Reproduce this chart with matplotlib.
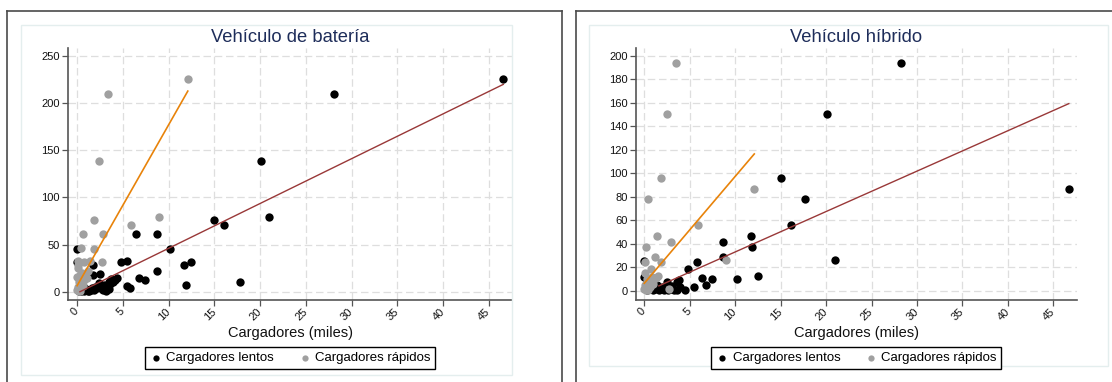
import matplotlib
matplotlib.use("Agg")
import matplotlib.pyplot as plt
from matplotlib.patches import Rectangle
from matplotlib.lines import Line2D
import numpy as np

plt.rcParams['font.family'] = ['Liberation Sans', 'DejaVu Sans']

# ---------------- data ----------------
bat_slow_x = [46.6, 28.1, 20.1, 21.0, 15.0, 16.1, 17.8, 12.5, 11.7, 11.9, 10.1, 8.7, 8.7, 6.4, 7.4, 6.8,
              5.5, 4.8, 5.5, 5.8, 4.4, 3.7, 3.5, 3.5, 2.7, 2.5, 1.7, 1.7, 0.0, 0.0,
              0.3, 0.5, 0.8, 1.0, 1.2, 1.5, 2.0, 2.2, 2.8, 3.0, 3.2, 3.6, 0.6, 0.9, 1.3, 1.8, 2.4,
              0.2, 0.4, 1.1, 1.6, 2.9, 3.9, 4.1]
bat_slow_y = [226, 210, 139, 79, 76, 71, 10, 32, 28, 7, 45, 61, 22, 61, 12, 15,
              33, 31, 6, 4, 15, 13, 10, 3, 3, 19, 28, 18, 45, 31,
              1, 2, 0.5, 3, 1, 2, 5, 4, 2, 6, 1, 8, 6, 3, 0.5, 2, 9,
              0.3, 0.5, 1.5, 4, 7, 10, 12]
bat_fast_x = [12.1, 3.4, 2.4, 1.8, 8.9, 5.9, 0.6, 2.8, 0.4, 1.8, 2.7, 0.1, 1.4, 0.7, 0.0, 0.3,
              1.1, 1.2, 0.5, 0.2, 0.1, 0.4, 0.8, 0.0, 0.2, 0.3, 0.6, 0.1, 0.05, 0.9, 0.15, 0.25]
bat_fast_y = [226, 210, 139, 76, 79, 71, 61, 61, 46, 45, 31, 33, 33, 31, 16, 18,
              15, 22, 20, 10, 5, 8, 12, 2, 3, 1, 6, 25, 28, 18, 13, 0.5]

hyb_slow_x = [28.2, 20.1, 46.7, 15.0, 17.7, 16.1, 11.7, 11.9, 8.7, 8.7, 21.0, 12.5, 10.2, 5.8, 4.8,
              6.4, 7.4, 6.8, 5.5, 4.5, 0.0, 0.0, 2.5, 3.6, 3.8, 3.6, 2.8, 1.9,
              0.3, 0.6, 1.0, 1.4, 1.8, 2.2, 3.0, 3.3, 0.8, 1.2, 2.6, 3.9, 0.5, 1.6]
hyb_slow_y = [194, 151, 87, 96, 78, 56, 47, 37, 42, 29, 26, 13, 10, 25, 19,
              11, 10, 5, 3, 1, 25.5, 12, 8, 8, 9, 1, 2, 3,
              1, 3, 0.5, 5, 2, 1, 4, 0.5, 6, 2, 0.5, 3, 8, 1]
hyb_fast_x = [3.5, 2.5, 1.8, 0.4, 12.1, 5.9, 1.4, 2.9, 0.2, 0.1, 1.2, 1.8, 9.0, 0.7, 1.5, 0.3,
              0.1, 0.5, 0.9, 0.0, 0.2, 0.6, 1.0, 0.4, 0.1, 0.3, 2.7, 0.8, 1.3]
hyb_fast_y = [194, 151, 96, 78, 87, 56, 47, 42, 37, 25, 29, 25, 26, 19, 13, 10,
              5, 8, 12, 2, 1, 3, 6, 0.5, 15, 4, 2, 9, 11]

# fitted lines: (slope, intercept, x_start, x_end)
bat_fit_slow = (4.75, -1.5, 0.3, 46.6)
bat_fit_fast = (17.05, 6.4, 0.0, 12.1)
hyb_fit_slow = (3.44, -1.2, 1.6, 46.7)
hyb_fit_fast = (9.1, 6.5, 0.0, 12.1)

titles = ["Vehículo de batería", "Vehículo híbrido"]
xlabel = "Cargadores (miles)"
legend_labels = ["Cargadores lentos", "Cargadores rápidos"]
x_ticks = [0, 5, 10, 15, 20, 25, 30, 35, 40, 45]
bat_y_ticks = [0, 50, 100, 150, 200, 250]
hyb_y_ticks = [0, 20, 40, 60, 80, 100, 120, 140, 160, 180, 200]

# ---------------- figure ----------------
W, H = 1112, 382
fig = plt.figure(figsize=(W / 100, H / 100), dpi=100)
fig.patch.set_facecolor('white')

def fx(px):
    return px / W

def fy(py):
    return 1 - py / H

# outer frames
frame_col = '#4a4a4a'
for seg in [((7, 7), (11, 382)), ((7, 562), (11, 11)), ((562, 562), (11, 382)),
            ((576, 576), (11, 382)), ((576, 1112), (11, 11))]:
    fig.add_artist(Line2D([fx(seg[0][0]), fx(seg[0][1])], [fy(seg[1][0]), fy(seg[1][1])],
                          color=frame_col, lw=1.2))
# light inner boxes
fig.add_artist(Rectangle((fx(21), fy(375)), fx(512) - fx(21), fy(25) - fy(375),
                         fill=False, edgecolor='#e4eeee', lw=1.0))
fig.add_artist(Rectangle((fx(589), fy(366)), fx(1108) - fx(589), fy(25) - fy(366),
                         fill=False, edgecolor='#e4eeee', lw=1.0))

c_slow = '#000000'
c_fast = '#a0a0a0'
c_fit_slow = '#993838'
c_fit_fast = '#e8830a'
title_col = '#1e2d5a'

panels = [
    dict(rect=[fx(68), fy(300), fx(512) - fx(68), fy(48) - fy(300)],
         sx=bat_slow_x, sy=bat_slow_y, fxs=bat_fast_x, fys=bat_fast_y,
         fs=bat_fit_slow, ff=bat_fit_fast, yt=bat_y_ticks, ylim=(-8.8, 258.4),
         xlim=(-1.0, 47.55), title=titles[0], legx=290),
    dict(rect=[fx(636), fy(300), fx(1077) - fx(636), fy(48) - fy(300)],
         sx=hyb_slow_x, sy=hyb_slow_y, fxs=hyb_fast_x, fys=hyb_fast_y,
         fs=hyb_fit_slow, ff=hyb_fit_fast, yt=hyb_y_ticks, ylim=(-7.7, 206.8),
         xlim=(-0.91, 47.6), title=titles[1], legx=856),
]

for p in panels:
    ax = fig.add_axes(p['rect'])
    ax.set_facecolor('white')
    ax.set_xlim(*p['xlim'])
    ax.set_ylim(*p['ylim'])
    ax.set_xticks(x_ticks)
    ax.set_yticks(p['yt'])
    ax.grid(True, color='#dedede', lw=0.9, ls=(0, (6, 3)))
    ax.set_axisbelow(True)
    for s in ['top', 'right']:
        ax.spines[s].set_visible(False)
    for s in ['left', 'bottom']:
        ax.spines[s].set_color('#555555')
        ax.spines[s].set_linewidth(1.2)
    ax.tick_params(axis='both', direction='out', length=4, width=0.9, color='#555555',
                   labelsize=8, labelcolor='#111111', pad=2)
    ax.tick_params(axis='x', pad=3)
    for lab in ax.get_xticklabels():
        lab.set_rotation(45)
        lab.set_ha('right')
        lab.set_va('center')
        lab.set_rotation_mode('anchor')

    h1 = ax.scatter(p['sx'], p['sy'], s=36, color=c_slow, linewidths=0, zorder=3)
    h2 = ax.scatter(p['fxs'], p['fys'], s=36, color=c_fast, linewidths=0, zorder=3)
    sl, ic, x0, x1 = p['fs']
    ax.plot([x0, x1], [ic + sl * x0, ic + sl * x1], color=c_fit_slow, lw=1.0, zorder=4)
    sl, ic, x0, x1 = p['ff']
    ax.plot([x0, x1], [ic + sl * x0, ic + sl * x1], color=c_fit_fast, lw=1.2, zorder=4)

    ax.set_title(p['title'], fontsize=13.2, color=title_col, pad=4)
    ax.set_xlabel(xlabel, fontsize=10.5, labelpad=3, color='#111111')

    leg = fig.legend([h1, h2], legend_labels, loc='center',
                     bbox_to_anchor=(fx(p['legx']), fy(358)), ncol=2, fontsize=9.5,
                     frameon=True, fancybox=False, edgecolor='black', framealpha=1,
                     handletextpad=0.3, columnspacing=1.8, borderpad=0.35,
                     handlelength=1.0, markerscale=0.75)
    leg.get_frame().set_linewidth(1.0)

fig.savefig('out.png', dpi=100)
